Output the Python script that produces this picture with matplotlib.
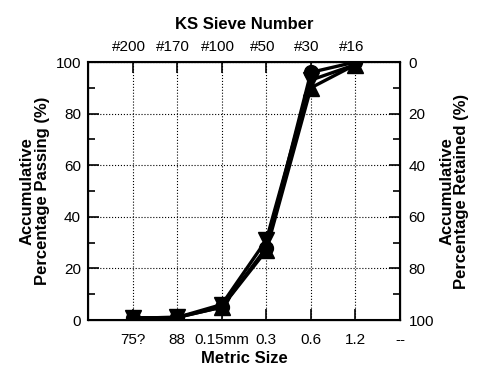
import numpy as np
import matplotlib.pyplot as plt
import matplotlib.transforms as mtransforms

plt.rcParams['font.family'] = ['Liberation Sans', 'DejaVu Sans']

# ── Data ─────────────────────────────────────────────────────────────────────
metric_labels = ["75?", "88", "0.15mm", "0.3", "0.6", "1.2", "--"]
sieve_labels = ["#200", "#170", "#100", "#50", "#30", "#16"]
sieve_pos = [1, 2, 3, 4, 5, 6]

passing_circle = [0.8, 1.0, 5.0, 28.0, 96.0, 100.0]
passing_down = [0.8, 1.0, 6.0, 31.0, 93.0, 99.0]
passing_up = [0.8, 1.0, 5.0, 27.0, 90.0, 99.0]

# ── Figure ───────────────────────────────────────────────────────────────────
fig = plt.figure(figsize=(4.78, 3.67), dpi=100)
ax = fig.add_axes([0.184, 0.128, 0.653, 0.703])

ax.plot(sieve_pos, passing_circle, color="black", lw=2.4, marker="o", ms=10, zorder=3)
ax.plot(sieve_pos, passing_down, color="black", lw=2.4, marker="v", ms=11, zorder=3)
ax.plot(sieve_pos, passing_up, color="black", lw=2.4, marker="^", ms=11, zorder=3)

ax.set_xlim(0, 7)
ax.set_ylim(0, 100)
ax.set_xticks(range(1, 8))
ax.set_xticklabels(metric_labels, fontsize=11)
ax.set_yticks(range(0, 101, 20))
ax.set_yticks(range(0, 101, 10), minor=True)
ax.tick_params(axis="y", labelsize=11, pad=5)
ax.tick_params(axis="x", pad=9)
ax.tick_params(direction="in", length=8, width=1.2)
ax.tick_params(which="minor", direction="in", length=5, width=1.2)
ax.grid(True, which="major", linestyle=":", color="black", lw=0.8)
ax.set_xlabel("Metric Size", fontsize=12, fontweight="bold", labelpad=3)
ax.set_ylabel("Accumulative\nPercentage Passing (%)", fontsize=12,
              fontweight="bold", linespacing=1.0, labelpad=4)
for s in ax.spines.values():
    s.set_linewidth(1.5)

# right axis: retained
axr = ax.twinx()
axr.set_ylim(100, 0)
axr.set_yticks(range(0, 101, 20))
axr.set_yticks(range(0, 101, 10), minor=True)
axr.tick_params(axis="y", labelsize=11, direction="in", length=8, width=1.2, pad=6)
axr.tick_params(which="minor", direction="in", length=5, width=1.2)
axr.set_ylabel("Accumulative\nPercentage Retained (%)", fontsize=12,
               fontweight="bold", linespacing=1.0, rotation=90, labelpad=4)

# top axis: sieve numbers
axt = ax.twiny()
axt.set_xlim(0, 7)
axt.set_xticks(sieve_pos)
axt.set_xticklabels(sieve_labels, fontsize=11)
axt.tick_params(axis="x", direction="in", length=8, width=1.2, pad=6)
shift = mtransforms.ScaledTranslation(-4 / 100, 0, fig.dpi_scale_trans)
for lab in axt.get_xticklabels():
    lab.set_transform(lab.get_transform() + shift)
axt.set_xlabel("KS Sieve Number", fontsize=12, fontweight="bold", labelpad=8)

fig.savefig("out.png", dpi=100)
